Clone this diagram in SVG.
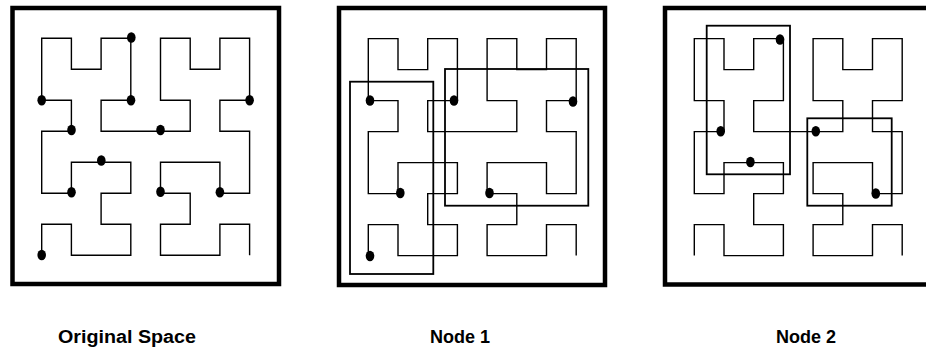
<svg xmlns="http://www.w3.org/2000/svg" xmlns:xlink="http://www.w3.org/1999/xlink" width="926" height="354" viewBox="0 0 926 354">
  <style>
    .frame { fill: none; stroke: #000; stroke-width: 4.5; }
    .curve { fill: none; stroke: #000; stroke-width: 1.4; stroke-linejoin: miter; }
    .region { fill: none; stroke: #000; stroke-width: 1.8; }
    .dot { fill: #000; }
    .label { font-family: "Liberation Sans", Arial, Helvetica, sans-serif; font-weight: bold; font-size: 18px; text-anchor: middle; fill: #000; }
  </style>
  <defs>
    <path id="hilbert" d="M0,217 V186 H29.7 V217 H89.1 V186 H59.4 V155 H89.1 V124 H29.7 V155 H0 V93 H29.7 V62 H0 V0 H29.7 V31 H59.4 V0 H89.1 V62 H59.4 V93 H148.5 V62 H118.8 V0 H148.5 V31 H178.2 V0 H207.9 V62 H178.2 V93 H207.9 V155 H178.2 V124 H118.8 V155 H148.5 V186 H118.8 V217 H178.2 V186 H207.9 V217"/>
  </defs>

  <g id="original-space">
    <rect class="frame" x="12.5" y="8" width="266.5" height="276"/>
    <use xlink:href="#hilbert" href="#hilbert" class="curve" transform="translate(41.7,38.3)"/>
    <g id="points-original">
      <ellipse class="dot" cx="131.3" cy="37.5" rx="4.3" ry="5.3"/>
      <ellipse class="dot" cx="41.7" cy="100.3" rx="4.3" ry="5.3"/>
      <ellipse class="dot" cx="131" cy="100.3" rx="4.3" ry="5.3"/>
      <ellipse class="dot" cx="249.6" cy="100.3" rx="4.3" ry="5.3"/>
      <ellipse class="dot" cx="71.5" cy="130" rx="4.3" ry="5.3"/>
      <ellipse class="dot" cx="160.5" cy="130" rx="4.3" ry="5.3"/>
      <ellipse class="dot" cx="101.3" cy="160.5" rx="4.3" ry="5.3"/>
      <ellipse class="dot" cx="71.5" cy="192.3" rx="4.3" ry="5.3"/>
      <ellipse class="dot" cx="160.5" cy="191.8" rx="4.3" ry="5.3"/>
      <ellipse class="dot" cx="219.9" cy="192.3" rx="4.3" ry="5.3"/>
      <ellipse class="dot" cx="41.7" cy="255" rx="4.3" ry="5.3"/>
    </g>
    <text class="label" x="127" y="343" textLength="138" lengthAdjust="spacingAndGlyphs">Original Space</text>
  </g>

  <g id="node-1">
    <rect class="frame" x="339" y="8" width="266" height="277"/>
    <use xlink:href="#hilbert" href="#hilbert" class="curve" transform="translate(368.3,38.6)"/>
    <rect class="region" x="350" y="81.7" width="83.3" height="192.3"/>
    <rect class="region" x="445" y="69" width="143.3" height="136.7"/>
    <g id="points-node-1">
      <ellipse class="dot" cx="370" cy="100.5" rx="4.3" ry="5.3"/>
      <ellipse class="dot" cx="454" cy="100.5" rx="4.3" ry="5.3"/>
      <ellipse class="dot" cx="573" cy="101.5" rx="4.3" ry="5.3"/>
      <ellipse class="dot" cx="400.3" cy="193" rx="4.3" ry="5.3"/>
      <ellipse class="dot" cx="489.5" cy="193" rx="4.3" ry="5.3"/>
      <ellipse class="dot" cx="370" cy="256" rx="4.3" ry="5.3"/>
    </g>
    <text class="label" x="460" y="343">Node 1</text>
  </g>

  <g id="node-2">
    <rect class="frame" x="665" y="8" width="280" height="276.5"/>
    <use xlink:href="#hilbert" href="#hilbert" class="curve" transform="translate(694.3,38.6)"/>
    <rect class="region" x="706.7" y="25.7" width="83.3" height="148.6"/>
    <rect class="region" x="807.3" y="118.3" width="84.4" height="87.4"/>
    <g id="points-node-2">
      <ellipse class="dot" cx="780" cy="39.5" rx="4.3" ry="5.3"/>
      <ellipse class="dot" cx="720.7" cy="131.3" rx="4.3" ry="5.3"/>
      <ellipse class="dot" cx="750.4" cy="162" rx="4.3" ry="5.3"/>
      <ellipse class="dot" cx="815.8" cy="131.3" rx="4.3" ry="5.3"/>
      <ellipse class="dot" cx="875.8" cy="193.5" rx="4.3" ry="5.3"/>
    </g>
    <text class="label" x="806" y="343">Node 2</text>
  </g>
</svg>
